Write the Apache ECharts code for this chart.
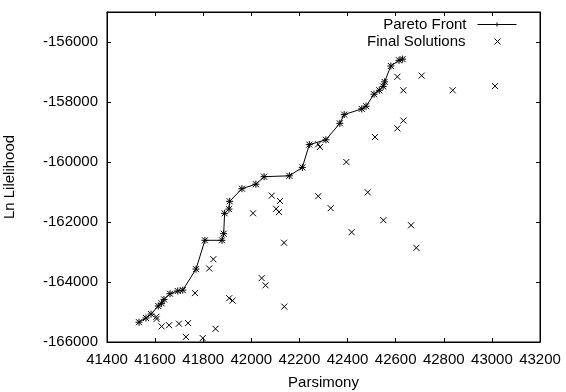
<!DOCTYPE html>
<html>
<head>
<meta charset="utf-8">
<script src="https://cdn.jsdelivr.net/npm/echarts@6/dist/echarts.min.js"></script>
<style>
  html, body { margin: 0; padding: 0; background: #fff; }
  #chart { width: 566px; height: 392px; }
</style>
</head>
<body>
<div id="chart"></div>
<script>
// Pareto front (parsimony, ln likelihood), sorted by parsimony
const frontParsimony = [41533, 41562, 41583, 41613, 41627, 41637, 41662, 41694, 41715, 41770,
  41807, 41878, 41885, 41889, 41907, 41910, 41961, 42019, 42053, 42158,
  42212, 42241, 42310, 42368, 42386, 42459, 42477, 42510, 42532, 42548,
  42554, 42580, 42614, 42629]
const frontLnL = [-165340, -165200, -165070, -164800, -164710, -164580, -164390, -164300, -164270, -163570,
  -162610, -162610, -162390, -161710, -161570, -161310, -160890, -160740, -160490, -160460,
  -160180, -159420, -159260, -158710, -158420, -158230, -158140, -157740, -157610, -157480,
  -157330, -156800, -156610, -156570]

// remaining final solutions (not on the front)
const otherParsimony = [42607, 42708, 42632, 42837, 43013, 42632, 42607, 42514, 42278, 42285,
  42395, 42278, 42330, 42484, 42417, 42549, 42664, 42686, 42085, 42119,
  42103, 42115, 42007, 42136, 41842, 41825, 41766, 41605, 41606, 41627,
  41658, 41699, 41737, 41728, 41798, 41851, 41908, 41922, 42043, 42059, 42137]
const otherLnL = [-157160, -157120, -157610, -157610, -157470, -158620, -158880, -159170, -159410, -159500,
  -160000, -161140, -161540, -161010, -162340, -161940, -162110, -162860, -161120, -161300,
  -161560, -161670, -161710, -162690, -163240, -163550, -164370, -165160, -165230, -165480,
  -165440, -165390, -165370, -165830, -165870, -165560, -164540, -164620, -163870, -164110, -164820]

const xMin = 41400, xMax = 43200, xStep = 200
const yMin = -166000, yMax = -155000, yStep = 2000

const zip = (a, b) => a.map((v, i) => [v, b[i]])
const frontData = zip(frontParsimony, frontLnL)
const finalData = frontData.concat(zip(otherParsimony, otherLnL))

const plusSym = 'path://M0,5L10,5M5,0L5,10'
const crossSym = 'path://M0,0L10,10M10,0L0,10'
const font = 'Liberation Sans'
const fs = 15

const myChart = echarts.init(document.getElementById('chart'))
const tickStyle = { show: true, inside: true, length: 4, lineStyle: { color: '#000' } }
const plain = v => String(v)
myChart.setOption({
  backgroundColor: '#fff',
  animation: false,
  textStyle: { fontFamily: font },
  grid: {
    left: 107, right: 26, top: 12, bottom: 50,
    outerBoundsMode: 'none', containLabel: false,
    show: true, borderColor: '#000', borderWidth: 1
  },
  legend: [
    {
      data: ['Pareto Front'],
      right: 49, top: 17,
      align: 'right',
      itemWidth: 39, itemHeight: 5,
      itemGap: 0, padding: 0,
      selectedMode: false,
      lineStyle: { width: 1, color: '#000' },
      itemStyle: { borderWidth: 1 },
      textStyle: { fontFamily: font, fontSize: fs, color: '#000', padding: [0, 6, 0, 0] }
    },
    {
      data: ['Final Solutions'],
      right: 65, top: 34,
      align: 'right',
      itemWidth: 6, itemHeight: 6,
      itemGap: 0, padding: 0,
      selectedMode: false,
      itemStyle: { borderWidth: 1 },
      textStyle: { fontFamily: font, fontSize: fs, color: '#000', padding: [0, 24, 0, 0] }
    }
  ],
  xAxis: [
    {
      type: 'value', min: xMin, max: xMax, interval: xStep,
      name: 'Parsimony', nameLocation: 'middle', nameGap: 33,
      nameTextStyle: { fontFamily: font, fontSize: fs, color: '#000' },
      axisLine: { onZero: false, lineStyle: { color: '#000' } },
      axisTick: tickStyle,
      axisLabel: { fontFamily: font, fontSize: fs, color: '#000', margin: 10, formatter: plain },
      splitLine: { show: false }
    },
    {
      type: 'value', position: 'top', min: xMin, max: xMax, interval: xStep,
      axisLine: { onZero: false, lineStyle: { color: '#000' } },
      axisTick: tickStyle,
      axisLabel: { show: false },
      splitLine: { show: false }
    }
  ],
  yAxis: [
    {
      type: 'value', min: yMin, max: yMax, interval: yStep,
      name: 'Ln Lilelihood', nameLocation: 'middle', nameGap: 90, nameRotate: 90,
      nameTextStyle: { fontFamily: font, fontSize: fs, color: '#000' },
      axisLine: { onZero: false, lineStyle: { color: '#000' } },
      axisTick: tickStyle,
      axisLabel: { fontFamily: font, fontSize: fs, color: '#000', margin: 9, showMaxLabel: false, formatter: plain },
      splitLine: { show: false }
    },
    {
      type: 'value', position: 'right', min: yMin, max: yMax, interval: yStep,
      axisLine: { onZero: false, lineStyle: { color: '#000' } },
      axisTick: tickStyle,
      axisLabel: { show: false },
      splitLine: { show: false }
    }
  ],
  series: [
    {
      name: 'Pareto Front',
      type: 'line',
      data: frontData,
      symbol: plusSym,
      symbolSize: 7,
      showAllSymbol: true,
      lineStyle: { color: '#000', width: 1 },
      itemStyle: { color: '#000', borderColor: '#000', borderWidth: 1 },
      z: 3
    },
    {
      name: 'Final Solutions',
      type: 'scatter',
      data: finalData,
      symbol: crossSym,
      symbolSize: 6,
      itemStyle: { color: '#000', borderColor: '#000', borderWidth: 1, opacity: 1 },
      z: 2
    }
  ]
})
</script>
</body>
</html>
